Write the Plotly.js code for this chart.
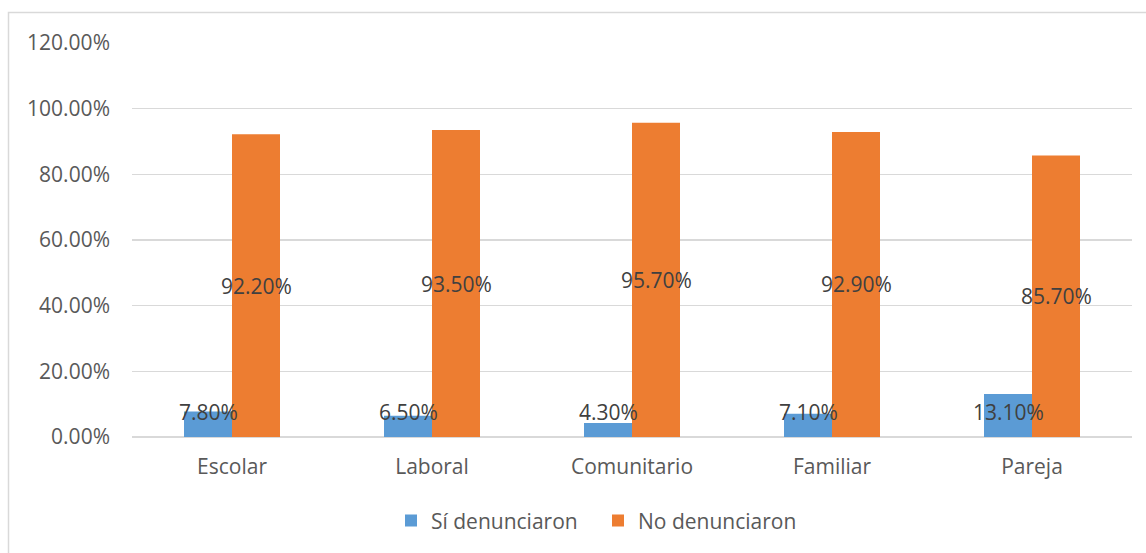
<!DOCTYPE html>
<html>
<head>
<meta charset="utf-8">
<script src="https://cdn.plot.ly/plotly-3.0.1.min.js"></script>
<style>
  html, body { margin: 0; padding: 0; background: #fff; }
  #chart { width: 1146px; height: 553px; }
</style>
</head>
<body>
<div id="chart"></div>
<script>
const categories = ["Escolar", "Laboral", "Comunitario", "Familiar", "Pareja"];
const siDenunciaron = [7.8, 6.5, 4.3, 7.1, 13.1];
const noDenunciaron = [92.2, 93.5, 95.7, 92.9, 85.7];
const seriesNames = ["Sí denunciaron", "No denunciaron"];

const FONT = "Open Sans, Liberation Sans, sans-serif";
const BLUE = "#5B9BD5";
const ORANGE = "#ED7D31";
const TXT = "#595959";
const LBL = "#404040";
const FS = 21;

const traces = [
  { type: "bar", name: seriesNames[0], x: categories, y: siDenunciaron,
    marker: { color: BLUE }, hoverinfo: "none" },
  { type: "bar", name: seriesNames[1], x: categories, y: noDenunciaron,
    marker: { color: ORANGE }, hoverinfo: "none" }
];

const annotations = [];
categories.forEach((c, i) => {
  annotations.push({
    x: c, y: 7.6, xref: "x", yref: "y", xshift: -24,
    text: siDenunciaron[i].toFixed(2) + "%", showarrow: false,
    font: { family: FONT, size: FS, color: LBL }
  });
  annotations.push({
    x: c, y: noDenunciaron[i] / 2, xref: "x", yref: "y", xshift: 24,
    text: noDenunciaron[i].toFixed(2) + "%", showarrow: false,
    font: { family: FONT, size: FS, color: LBL }
  });
});

const layout = {
  width: 1146, height: 553,
  margin: { l: 132, r: 14, t: 43, b: 116 },
  paper_bgcolor: "#fff", plot_bgcolor: "#fff",
  barmode: "group", bargap: 0.52, bargroupgap: 0,
  showlegend: true,
  legend: { orientation: "h", x: 0.466, xanchor: "center", y: -0.213, yanchor: "middle",
            entrywidth: 162, itemwidth: 30,
            font: { family: FONT, size: FS, color: TXT }, traceorder: "normal" },
  xaxis: {
    type: "category", showgrid: false, zeroline: false, showline: false,
    ticks: "outside", ticklen: 11, tickcolor: "rgba(0,0,0,0)",
    tickfont: { family: FONT, size: FS, color: TXT }, fixedrange: true
  },
  yaxis: {
    range: [0, 120], dtick: 20, tick0: 0, tickformat: ".2f", ticksuffix: "%",
    showgrid: true, gridcolor: "#d9d9d9", gridwidth: 1.5,
    zeroline: true, zerolinecolor: "#d9d9d9", zerolinewidth: 1.5,
    showline: false, ticklabelstandoff: 21,
    tickfont: { family: FONT, size: FS, color: TXT }, fixedrange: true
  },
  annotations: annotations,
  shapes: [{
    type: "rect", xref: "paper", yref: "paper",
    x0: -0.1235, x1: 1.03, y0: -0.35, y1: 1.0775,
    line: { color: "#d9d9d9", width: 1.5 }, fillcolor: "rgba(0,0,0,0)", layer: "below"
  }]
};

Plotly.newPlot("chart", traces, layout, { displayModeBar: false, staticPlot: true });
</script>
</body>
</html>
